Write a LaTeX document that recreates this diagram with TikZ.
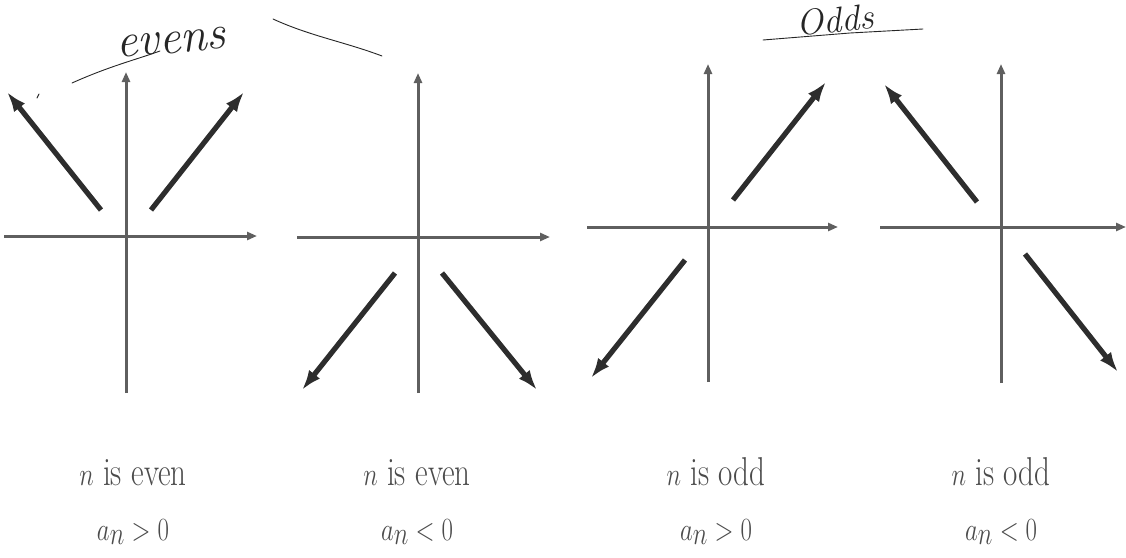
\documentclass[tikz,border=0pt]{standalone}
\usepackage{graphicx}
\usepackage{tikz}
\usetikzlibrary{arrows.meta,positioning}
\definecolor{axisgray}{RGB}{95,95,95}
\definecolor{vecdark}{RGB}{45,45,45}
\definecolor{inkgray}{RGB}{75,75,75}
\newcommand{\tall}[1]{\scalebox{1}[1.3]{#1}}

\begin{document}
\begin{tikzpicture}[x=1pt, y=-1pt,
  axis/.style={axisgray, line width=3pt, -{Triangle[length=10pt,width=8pt]}},
  vec/.style={vecdark, line width=5.2pt, -{Latex[length=20pt,width=14pt]}},
  lbl/.style={font=\fontsize{31}{36}\selectfont, text=inkgray, anchor=base},
  sgn/.style={font=\fontsize{38}{42}\selectfont, text=inkgray, anchor=base},
  hand/.style={font=\fontsize{48}{52}\selectfont\itshape, text=black!85, anchor=base},
  pen/.style={black!85, line width=0.9pt, line cap=round}]
\useasboundingbox (0,0) rectangle (1126,557);

% handwritten notes
\node[hand, rotate=5] (evens) at (172,53) {evens};
\draw[pen] (72,83) .. controls (110,66) and (135,60) .. (160,51);
\draw[pen] (273,19) .. controls (310,36) and (345,42) .. (382,56);
\draw[pen] (37,98) -- (39,94);
\node[hand, font=\fontsize{36}{40}\selectfont\itshape, rotate=5] (odds) at (836,32) {Odds};
\draw[pen] (763,40) -- (850,33) -- (923,29);

% panel 1: n even, a_n > 0
\coordinate (h1a) at (4,236);   \coordinate (h1b) at (257,236);
\coordinate (v1a) at (126,393); \coordinate (v1b) at (126,72);
\coordinate (p1a) at (101,210); \coordinate (p1b) at (7,92);
\coordinate (q1a) at (151,210); \coordinate (q1b) at (244,92);
\draw[axis] (h1a) -- (h1b);
\draw[axis] (v1a) -- (v1b);
\draw[vec] (p1a) -- (p1b);
\draw[vec] (q1a) -- (q1b);
\node[lbl] (top1) at (133,485) {\tall{$n$ is even}};
\node[sgn] (sgn1) at (133,540) {\tall{$a_n>0$}};

% panel 2: n even, a_n < 0
\coordinate (h2a) at (297,237); \coordinate (h2b) at (550,237);
\coordinate (v2a) at (418,393); \coordinate (v2b) at (418,73);
\coordinate (p2a) at (395,273); \coordinate (p2b) at (302,390);
\coordinate (q2a) at (442,273); \coordinate (q2b) at (537,390);
\draw[axis] (h2a) -- (h2b);
\draw[axis] (v2a) -- (v2b);
\draw[vec] (p2a) -- (p2b);
\draw[vec] (q2a) -- (q2b);
\node[lbl] (top2) at (417,485) {\tall{$n$ is even}};
\node[sgn] (sgn2) at (417,540) {\tall{$a_n<0$}};

% panel 3: n odd, a_n > 0
\coordinate (h3a) at (587,227); \coordinate (h3b) at (838,227);
\coordinate (v3a) at (708,382); \coordinate (v3b) at (708,64);
\coordinate (p3a) at (733,200); \coordinate (p3b) at (826,82);
\coordinate (q3a) at (685,260); \coordinate (q3b) at (591,378);
\draw[axis] (h3a) -- (h3b);
\draw[axis] (v3a) -- (v3b);
\draw[vec] (p3a) -- (p3b);
\draw[vec] (q3a) -- (q3b);
\node[lbl] (top3) at (716,485) {\tall{$n$ is odd}};
\node[sgn] (sgn3) at (716,540) {\tall{$a_n>0$}};

% panel 4: n odd, a_n < 0
\coordinate (h4a) at (880,227);  \coordinate (h4b) at (1126,227);
\coordinate (v4a) at (1001,383); \coordinate (v4b) at (1001,64);
\coordinate (p4a) at (977,202);  \coordinate (p4b) at (884,84);
\coordinate (q4a) at (1025,254); \coordinate (q4b) at (1118,372);
\draw[axis] (h4a) -- (h4b);
\draw[axis] (v4a) -- (v4b);
\draw[vec] (p4a) -- (p4b);
\draw[vec] (q4a) -- (q4b);
\node[lbl] (top4) at (1001,485) {\tall{$n$ is odd}};
\node[sgn] (sgn4) at (1001,540) {\tall{$a_n<0$}};
\end{tikzpicture}
\end{document}
